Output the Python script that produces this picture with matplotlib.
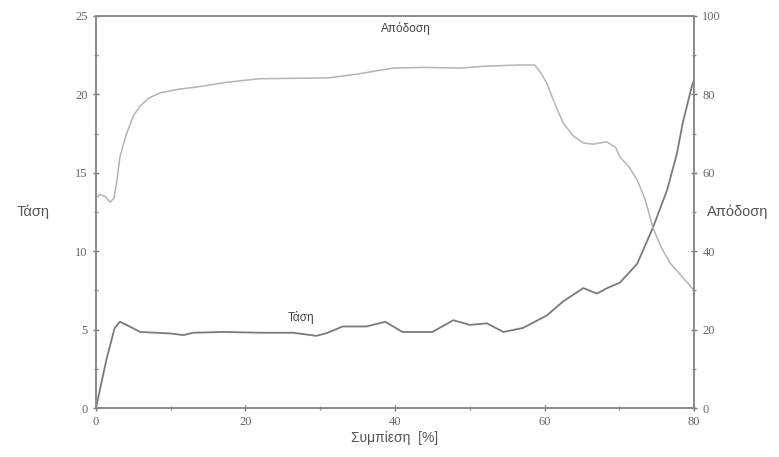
import matplotlib
matplotlib.use("Agg")
import matplotlib.pyplot as plt
from matplotlib.ticker import MultipleLocator

# Τάση (left axis)
x_tasi = [0, 1.4, 2.5, 3.2, 4.5, 5.9, 8.1, 10, 11.7, 13, 17, 22.3, 26.4, 29.5, 31,
          33, 36.2, 38.7, 41, 45, 47.8, 50, 52.3, 54.5, 57.1, 60.3, 62.5, 65.2,
          67, 68.4, 70.1, 72.4, 74.5, 76.4, 77.7, 78.5, 79.7, 80]
y_tasi = [0.0, 3.1, 5.1, 5.5, 5.2, 4.85, 4.8, 4.75, 4.65, 4.8, 4.85, 4.8, 4.8, 4.6, 4.8,
          5.2, 5.2, 5.5, 4.85, 4.85, 5.6, 5.3, 5.4, 4.85, 5.1, 5.9, 6.8, 7.65,
          7.3, 7.65, 8.0, 9.2, 11.5, 13.9, 16.2, 18.2, 20.5, 20.9]

# Απόδοση (right axis)
x_apod = [0, 0.5, 1.2, 1.9, 2.4, 2.8, 3.2, 3.7, 4.1, 5.0, 5.9, 7.0, 8.6, 11, 13.9,
          17.5, 21.9, 31, 35, 39.7, 44, 48.7, 52, 56.7, 58.7, 59.5, 60.3, 61.4,
          62.5, 63.8, 65.2, 66.5, 68.3, 69.5, 70.1, 71.3, 72.4, 73.5, 74.5, 75.6,
          76.8, 78.4, 80]
y_apod = [53.5, 54.5, 54.0, 52.5, 53.5, 58, 64, 67.5, 70, 74.5, 77, 79, 80.4, 81.3, 82,
          83.1, 84, 84.2, 85.2, 86.7, 86.9, 86.7, 87.2, 87.5, 87.5, 85.5, 82.9, 77.5,
          72.7, 69.5, 67.6, 67.3, 67.9, 66.5, 64, 61.5, 58.2, 53, 46, 41,
          37, 33.5, 30]

plt.rcParams['font.family'] = ['Liberation Sans', 'DejaVu Sans']

fig = plt.figure(figsize=(7.79, 4.57), dpi=100)
ax = fig.add_axes([0.1232, 0.1072, 0.7677, 0.8578])
ax2 = ax.twinx()

ax.plot(x_tasi, y_tasi, color="#7a7a7a", lw=1.3)
ax2.plot(x_apod, y_apod, color="#b4b4b4", lw=1.1)

ax.set_xlim(0, 80)
ax.set_ylim(0, 25)
ax2.set_ylim(0, 100)

ax.xaxis.set_major_locator(MultipleLocator(20))
ax.xaxis.set_minor_locator(MultipleLocator(10))
ax.yaxis.set_major_locator(MultipleLocator(5))
ax.yaxis.set_minor_locator(MultipleLocator(2.5))
ax2.yaxis.set_major_locator(MultipleLocator(20))
ax2.yaxis.set_minor_locator(MultipleLocator(10))

for a in (ax, ax2):
    for s in a.spines.values():
        s.set_color("#8a8a8a")
        s.set_linewidth(1.2)
    a.tick_params(which="major", direction="inout", length=5, width=1, color="#777777",
                  labelsize=9, labelcolor="#666666")
    a.tick_params(which="minor", direction="inout", length=3, width=1, color="#888888")
    for lab in a.get_xticklabels() + a.get_yticklabels():
        lab.set_family("Liberation Serif")

ax.set_xlabel("Συμπίεση  [%]", fontsize=10, color="#555555", labelpad=2)
ax.set_ylabel("Τάση", fontsize=10.5, color="#555555", rotation=0, labelpad=30, va="center")
# right axis label sits horizontally just outside the tick labels
fig.text(0.9076, 0.536, "Απόδοση", fontsize=10.5, color="#555555", ha="left", va="center")

ax.text(41.5, 24.2, "Απόδοση", fontsize=8.5, color="#444444", ha="center", va="center")
ax.text(27.5, 5.8, "Τάση", fontsize=8.5, color="#444444", ha="center", va="center")

fig.savefig("out.png", dpi=100)
